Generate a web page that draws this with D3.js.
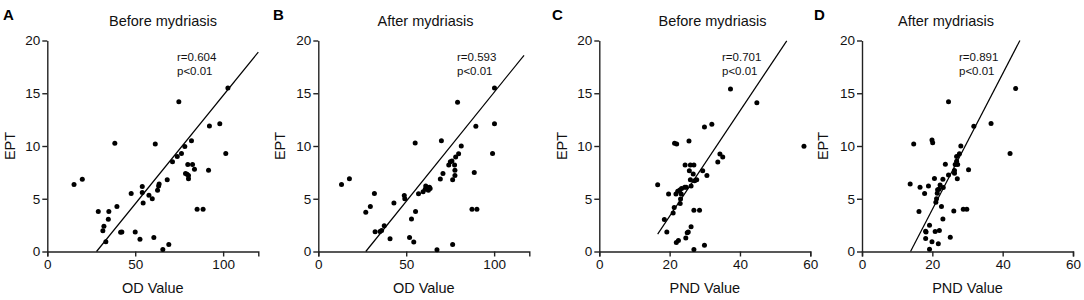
<!DOCTYPE html>
<html>
<head>
<meta charset="utf-8">
<script src="https://cdn.jsdelivr.net/npm/d3@7"></script>
<style>
  body { margin: 0; background: #fff; }
  svg { font-family: Arial, "Liberation Sans", sans-serif; }
  .axis path, .axis line { stroke: #222; stroke-width: 1.4px; }
  .axis text { font-size: 13.5px; fill: #111; }
  .axis-title { font-size: 14.5px; fill: #111; }
  .panel-title { font-size: 14.5px; fill: #111; }
  .panel-letter { font-size: 15px; font-weight: bold; fill: #000; }
  .stat { font-size: 11.5px; fill: #111; }
</style>
</head>
<body>
<div id="chart"></div>
<script>
// [x, EPT] pairs
const odBefore = [
  [15.2,6.35],[19.9,6.86],[29,3.79],[32.2,2.4],[31.6,1.96],[34.7,3.06],[35,3.79],[33.3,0.92],
  [39.6,4.27],[38.4,10.27],[41.7,1.83],[42.4,1.86],[47.7,5.5],[50,1.86],[52.7,1.17],[54,6.16],
  [54,5.6],[54.5,4.6],[57.8,5.34],[59.7,5.0],[60.6,1.33],[61.4,10.2],[62.7,5.8],[63.3,6.2],
  [63.6,6.4],[65.7,0.19],[68.2,6.8],[69.1,0.66],[71.2,8.5],[73.9,9.0],[74.8,14.2],[76.3,9.3],
  [78.2,9.95],[78.6,7.4],[79.5,7.33],[79.9,8.25],[80.3,6.9],[80.3,7.2],[82,10.5],[82.6,8.25],
  [83.7,7.8],[85.2,4.0],[88.6,4.0],[91.7,7.7],[92.2,11.9],[98.1,12.1],[101.5,9.3],[102.7,15.5]
];
const odAfter = [
  [13.2,6.36],[17.7,6.9],[27,3.73],[29.6,4.27],[31.9,5.5],[32.3,1.87],[35.1,1.9],[36,2.0],
  [37.5,2.44],[40.8,1.2],[43,4.6],[48.9,5.3],[49.2,5.0],[55.1,10.28],[55.3,3.8],[51.9,1.33],
  [53,3.07],[54.3,0.89],[57,5.47],[59.6,5.66],[60.8,5.9],[61.1,6.2],[61.7,6.0],[62.6,5.8],
  [63.2,6.1],[63.6,5.97],[67.5,0.16],[69.4,6.87],[70,10.5],[70.9,7.4],[74.2,8.2],[75.1,8.5],
  [76,8.57],[76.4,6.8],[76.4,0.66],[77.5,8.2],[77.7,7.7],[77.7,7.2],[78.1,8.95],[79.2,14.15],
  [79.8,9.27],[81.3,10.0],[87.4,4.0],[88.7,7.5],[89.6,11.87],[90.2,4.0],[99.1,9.3],[100.2,12.1],
  [100.2,15.5]
];
const pndBefore = [
  [16.6,6.33],[18.5,3.04],[19.2,1.84],[19.7,5.44],[21,3.64],[21.3,4.18],[21.4,10.25],[22,10.19],
  [21.9,0.85],[22.5,1.04],[21.8,5.44],[22.3,5.7],[22.9,5.82],[23,4.56],[23.1,4.97],[23.3,5.44],
  [23.4,5.98],[24.3,6.08],[24.7,6.08],[24.4,8.2],[24.6,1.27],[25,1.77],[25.3,1.84],[25.5,10.47],
  [25.6,7.66],[25.9,6.8],[26.1,6.2],[25.9,8.2],[26.1,2.34],[26.7,7.34],[26.9,8.2],[26.9,3.92],
  [26.9,0.19],[27.1,6.7],[27.7,6.8],[28.5,3.92],[29.4,7.66],[29.9,11.8],[29.9,0.6],[30.6,7.2],
  [32,12.05],[33.7,8.48],[34.3,9.24],[35.1,8.95],[37.3,15.4],[44.8,14.1],[58.2,9.97]
];
const pndAfter = [
  [13.7,6.4],[14.7,10.2],[16.2,3.8],[16.5,6.1],[17.8,5.5],[18.1,1.93],[18.2,1.86],[18.1,1.23],
  [18.9,6.2],[19.2,2.5],[19.2,0.22],[19.9,10.58],[20.1,10.3],[19.9,0.92],[20.6,6.92],[20.8,1.9],
  [21,4.68],[21.2,5.0],[21.4,5.53],[21.5,5.85],[21.9,5.9],[21.7,0.73],[22,1.99],[22.2,6.3],
  [22.6,4.27],[23,6.86],[23,3.07],[23.1,6.07],[23.7,8.28],[24.6,7.24],[24.6,14.19],[25.1,1.36],
  [26.1,3.85],[26.3,7.68],[26.3,7.42],[26.5,8.25],[26.9,8.56],[27.2,8.25],[27.1,6.89],[26.9,9.0],
  [27.7,9.26],[28.1,10.0],[28.8,4.01],[29.8,4.01],[30.3,7.74],[31.8,11.88],[36.7,12.13],[42.1,9.29],
  [43.7,15.45]
];

// regression line end points [x1, y1, x2, y2]
const fitLines = [
  [28, 0, 120, 18.9],
  [27, 0, 117, 18.6],
  [16.6, 1.65, 53.3, 19.97],
  [13.8, 0, 44.9, 20]
];

const letters = ['A', 'B', 'C', 'D'];
const titles = ['Before mydriasis', 'After mydriasis', 'Before mydriasis', 'After mydriasis'];
const xTitles = ['OD Value', 'OD Value', 'PND Value', 'PND Value'];
const rValues = ['r=0.604', 'r=0.593', 'r=0.701', 'r=0.891'];
const pValues = ['p<0.01', 'p<0.01', 'p<0.01', 'p<0.01'];
const xTicksOD = [0, 50, 100];
const xTicksPND = [0, 20, 40, 60];
const yTicks = [0, 5, 10, 15, 20];

const svg = d3.select('#chart').append('svg')
    .attr('width', 1084)
    .attr('height', 300);

// layout of each panel (left edge of the plot, title and stat positions)
const panels = [
  {data: odBefore, xMax: 120, xTicks: xTicksOD, left: 47.3, titleX: 163, statX: 177, yLabX: 10, letterX: 3},
  {data: odAfter, xMax: 120, xTicks: xTicksOD, left: 318.3, titleX: 425.5, statX: 457, yLabX: 280, letterX: 273},
  {data: pndBefore, xMax: 60, xTicks: xTicksPND, left: 599.3, titleX: 712.5, statX: 722, yLabX: 562, letterX: 552},
  {data: pndAfter, xMax: 60, xTicks: xTicksPND, left: 862, titleX: 946, statX: 959, yLabX: 823, letterX: 814}
];

const plotTop = 40.5, width = 211, height = 211;

panels.forEach((p, i) => {
  const xScale = d3.scaleLinear().domain([0, p.xMax]).range([0, width]);
  const yScale = d3.scaleLinear().domain([0, 20]).range([height, 0]);

  const g = svg.append('g')
      .attr('transform', `translate(${p.left},${plotTop})`);

  g.append('g')
      .attr('class', 'axis')
      .attr('transform', `translate(0,${height})`)
      .call(d3.axisBottom(xScale).tickValues(p.xTicks).tickSize(5).tickPadding(3).tickSizeOuter(5));

  g.append('g')
      .attr('class', 'axis')
      .call(d3.axisLeft(yScale).tickValues(yTicks).tickSize(5).tickPadding(2).tickSizeOuter(0));

  // fit line
  const f = fitLines[i];
  g.append('line')
      .attr('x1', xScale(f[0])).attr('y1', yScale(f[1]))
      .attr('x2', xScale(f[2])).attr('y2', yScale(f[3]))
      .attr('stroke', '#000')
      .attr('stroke-width', 1.2);

  g.selectAll('.point')
      .data(p.data)
      .join('circle')
      .attr('class', 'point')
      .attr('r', 2.5)
      .attr('cx', d => xScale(d[0]))
      .attr('cy', d => yScale(d[1]))
      .attr('fill', '#000');

  // texts
  svg.append('text')
      .attr('class', 'panel-letter')
      .attr('x', p.letterX)
      .attr('y', 19.5)
      .text(letters[i]);

  svg.append('text')
      .attr('class', 'panel-title')
      .attr('x', p.titleX)
      .attr('y', 26)
      .attr('text-anchor', 'middle')
      .text(titles[i]);

  svg.append('text')
      .attr('class', 'stat')
      .attr('x', p.statX)
      .attr('y', 61)
      .text(rValues[i]);

  svg.append('text')
      .attr('class', 'stat')
      .attr('x', p.statX)
      .attr('y', 74.5)
      .text(pValues[i]);

  svg.append('text')
      .attr('class', 'axis-title')
      .attr('x', p.left + width / 2)
      .attr('y', 293)
      .attr('text-anchor', 'middle')
      .text(xTitles[i]);

  svg.append('text')
      .attr('class', 'axis-title')
      .attr('text-anchor', 'middle')
      .attr('transform', `translate(${p.yLabX + 5}, ${plotTop + height / 2}) rotate(-90)`)
      .text('EPT');
});
</script>
</body>
</html>
